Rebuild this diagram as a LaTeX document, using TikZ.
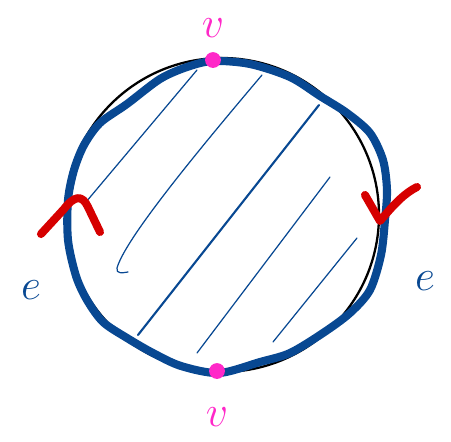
\documentclass[tikz,border=0pt]{standalone}
\usepackage{tikz}
\usetikzlibrary{positioning, calc}

\definecolor{penblue}{RGB}{8,72,146}
\definecolor{penpink}{RGB}{255,40,200}
\definecolor{penred}{RGB}{214,0,0}

\begin{document}
\begin{tikzpicture}[
        x=0.02cm, y=-0.02cm,
        edge/.style={draw=penblue, line width=4.6pt, line join=round, line cap=round},
        hatch/.style={draw=penblue, line width=0.7pt, line cap=round},
        tip/.style={draw=penred, line width=4.6pt, line join=round, line cap=round},
        vdot/.style={circle, fill=penpink, inner sep=0pt, minimum size=9pt},
        vlabel/.style={text=penpink, font=\fontsize{36}{36}\selectfont, inner sep=0pt},
        elabel/.style={text=penblue, font=\fontsize{54}{54}\selectfont, inner sep=0pt}
    ]
        \useasboundingbox (0,0) rectangle (451,441);

        % Circle
        \draw[black, line width=1.3pt] (222,215) circle[radius=157];

        % Hatching
        \draw[hatch] (197,70) -- (86,202);
        \draw[hatch] (262,75) .. controls (190,160) and (125,240) .. (117,268) .. controls (116,274) and (122,273) .. (128,272);
        \draw[hatch, line width=1.2pt] (319,105) -- (138,335);
        \draw[hatch] (330,177) -- (197,353);
        \draw[hatch] (357,238) -- (273,342);

        % Edge loop
        \draw[edge] plot[smooth cycle, tension=0.5] coordinates {
            (213,61) (250,64) (290,77) (320,96) (347,113) (370,133) (383,160)
            (387,190) (385,220) (381,255) (370,290) (350,313) (323,333)
            (290,353) (260,362) (219,373) (181,366) (153,353) (127,338)
            (103,322) (87,300) (76,276) (68,240) (68,200) (74,170) (84,145)
            (100,123) (127,104) (160,79) (187,67)};

        % Direction marks
        \draw[tip] (41,234) -- (64,209) .. controls (74,196) and (82,194) .. (88,207) -- (100,232);
        \draw[tip] (365,195) -- (380,221) .. controls (395,203) and (405,193) .. (417,187);

        % Vertices
        \node[vdot] (vtop) at (213,60) {};
        \node[vdot] (vbot) at (217,371) {};

        % Labels
        \node[vlabel, above=8pt of vtop] (vtoplabel) {$v$};
        \node[vlabel, below=16pt of vbot] (vbotlabel) {$v$};
        \node[elabel] (eleft) at (31,290) {$e$};
        \node[elabel] (eright) at (425,281) {$e$};
    \end{tikzpicture}
\end{document}
